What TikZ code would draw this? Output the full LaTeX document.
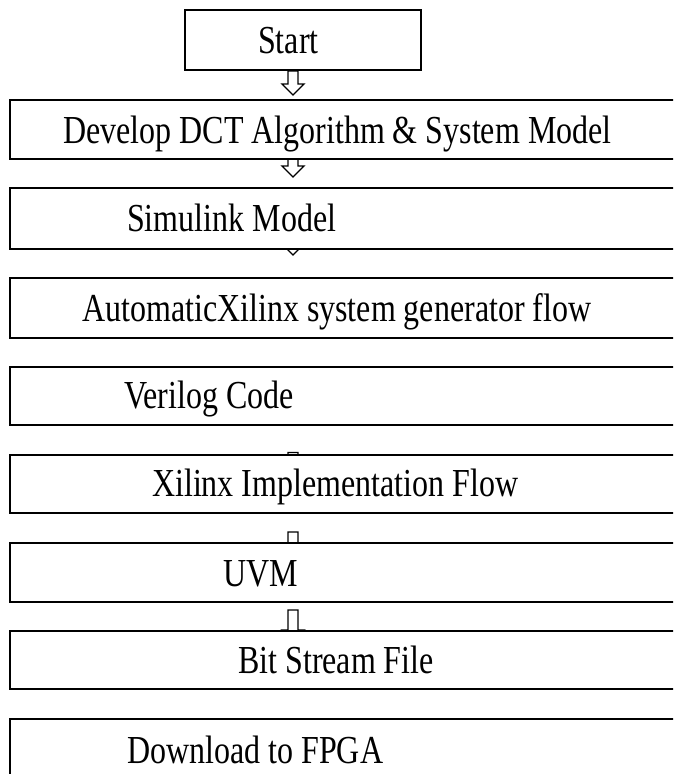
\documentclass[tikz,border=0pt]{standalone}
\usepackage{fontspec}
\setmainfont{Liberation Serif}
\usetikzlibrary{calc}
\pgfdeclarelayer{under}
\pgfsetlayers{under,main}

% hollow block arrow pointing down, from coordinate #1 (shaft top) to #2 (tip)
\newcommand\hollowarrow[2]{%
  \draw[flow] let \p1=(#1), \p2=(#2) in
    (\x1-5pt,\y1) -- (\x1-5pt,\y2+11pt) -- (\x1-11pt,\y2+11pt) -- (\x2,\y2)
    -- (\x1+11pt,\y2+11pt) -- (\x1+5pt,\y2+11pt) -- (\x1+5pt,\y1) -- cycle;}
\newcommand\tallText[1]{\scalebox{1}[1.24]{#1}}

\begin{document}
\begin{tikzpicture}[x=1pt,y=-1pt,
  box/.style={draw=black, line width=2pt, fill=white, rectangle, inner sep=0pt,
              anchor=north west, minimum width=690pt},
  lbl/.style={inner sep=0pt, anchor=base west, font=\fontsize{32}{38}\selectfont},
  flow/.style={draw=black, line width=1.4pt, fill=white, line join=miter},
]
\useasboundingbox (0,0) rectangle (673,774);
\clip (0,0) rectangle (673,774);

% process boxes (right sides run off the page)
\node[box, minimum width=236pt, minimum height=60pt] (start) at (184,9) {};
\node[box, minimum height=59pt] (b2) at (9,99) {};
\node[box, minimum height=61pt] (b3) at (9,187) {};
\node[box, minimum height=60pt] (b4) at (9,277) {};
\node[box, minimum height=58pt] (b5) at (9,366) {};
\node[box, minimum height=58pt] (b6) at (9,454) {};
\node[box, minimum height=59pt] (b7) at (9,542) {};
\node[box, minimum height=58pt] (b8) at (9,630) {};
\node[box, minimum height=80pt] (b9) at (9,718) {};

% labels
\node[lbl] (t1) at (258,53)  {\tallText{Start}};
\node[lbl] (t2) at (63,143)  {\tallText{Develop DCT Algorithm \& System Model}};
\node[lbl] (t3) at (127,231) {\tallText{Simulink Model}};
\node[lbl] (t4) at (82,321)  {\tallText{AutomaticXilinx system generator flow}};
\node[lbl] (t5) at (124,408) {\tallText{Verilog Code}};
\node[lbl] (t6) at (152,496) {\tallText{Xilinx Implementation Flow}};
\node[lbl] (t7) at (223,586) {\tallText{UVM}};
\node[lbl] (t8) at (238,673) {\tallText{Bit Stream File}};
\node[lbl] (t9) at (127,763) {\tallText{Download to FPGA}};

% arrow axis and end points
\coordinate (ax) at (293,0);
\coordinate (a1s) at (start.south -| ax);
\coordinate (a1e) at ($(b2.north -| ax)+(0,-4)$);
\coordinate (a2s) at ($(b2.south -| ax)+(0,-18)$);
\coordinate (a2e) at ($(b2.south -| ax)+(0,17)$);
\coordinate (a3s) at ($(b3.south -| ax)+(0,-28)$);
\coordinate (a3e) at ($(b3.south -| ax)+(0,5)$);
\coordinate (a5s) at ($(b6.north -| ax)+(0,-1.5)$);
\coordinate (a5e) at ($(b6.north -| ax)+(0,26)$);
\coordinate (a6s) at ($(b7.north -| ax)+(0,-10)$);
\coordinate (a6e) at ($(b7.north -| ax)+(0,24)$);
\coordinate (a7s) at ($(b7.south -| ax)+(0,7)$);
\coordinate (a7e) at ($(b8.north -| ax)+(0,11)$);

\begin{pgfonlayer}{under}
  \fill[white] (0,0) rectangle (673,774);
  \hollowarrow{a1s}{a1e}
  \hollowarrow{a2s}{a2e}
  \hollowarrow{a3s}{a3e}
  \hollowarrow{a5s}{a5e}
  \hollowarrow{a6s}{a6e}
  \hollowarrow{a7s}{a7e}
\end{pgfonlayer}
\end{tikzpicture}
\end{document}
